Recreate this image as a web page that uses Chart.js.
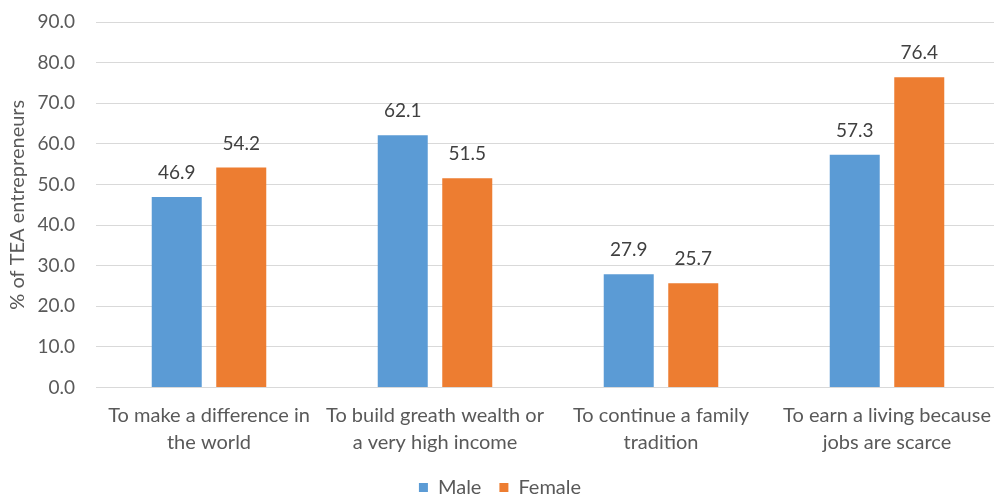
<!DOCTYPE html>
<html>
<head>
<meta charset="utf-8">
<script src="https://cdn.jsdelivr.net/npm/chart.js@4/dist/chart.umd.min.js"></script>
<style>
  html, body { margin: 0; padding: 0; background: #ffffff; overflow: hidden; }
  #wrap { position: absolute; left: 0; top: 0; width: 1004px; height: 497px; }
</style>
</head>
<body>
<div id="wrap"><canvas id="c" width="1004" height="497"></canvas></div>
<script>
// Motivations for starting a business, by gender
const categories = [
  ['To make a difference in', 'the world'],
  ['To build greath wealth or', 'a very high income'],
  ['To continue a family', 'tradition'],
  ['To earn a living because', 'jobs are scarce']
];
const seriesNames = ['Male', 'Female'];
const maleValues = [46.9, 62.1, 27.9, 57.3];
const femaleValues = [54.2, 51.5, 25.7, 76.4];
const yTicks = [0, 10, 20, 30, 40, 50, 60, 70, 80, 90];
const yTitle = '% of TEA entrepreneurs';

const FONT = 'Lato, "Liberation Sans", sans-serif';
const TEXT = '#595959';

// Writes each bar's value above it
const valueLabels = {
  id: 'valueLabels',
  afterDatasetsDraw(chart) {
    const ctx = chart.ctx;
    ctx.save();
    ctx.font = '19px ' + FONT;
    ctx.fillStyle = '#404040';
    ctx.textAlign = 'center';
    ctx.textBaseline = 'middle';
    chart.data.datasets.forEach((ds, i) => {
      const meta = chart.getDatasetMeta(i);
      meta.data.forEach((bar, j) => {
        ctx.fillText(ds.data[j].toFixed(1), bar.x, bar.y - 24);
      });
    });
    ctx.restore();
  }
};

new Chart(document.getElementById('c'), {
  type: 'bar',
  data: {
    labels: categories,
    datasets: [
      { label: seriesNames[0], data: maleValues, backgroundColor: '#5B9BD5',
        categoryPercentage: 0.571, barPercentage: 0.775 },
      { label: seriesNames[1], data: femaleValues, backgroundColor: '#ED7D31',
        categoryPercentage: 0.571, barPercentage: 0.775 }
    ]
  },
  options: {
    responsive: false,
    animation: false,
    layout: { padding: { top: 0, right: 4, left: 0, bottom: -10.5 } },
    plugins: {
      legend: {
        position: 'bottom',
        labels: {
          boxWidth: 9, boxHeight: 9, padding: 18,
          color: TEXT, font: { family: FONT, size: 20 }
        }
      },
      tooltip: { enabled: false }
    },
    scales: {
      x: {
        afterFit(scale) {
          scale.height = 72;
          scale.paddingLeft = 0;
          scale.paddingRight = 0;
        },
        grid: { display: false, drawTicks: false },
        border: { display: false },
        ticks: {
          color: TEXT, padding: 14.5, maxRotation: 0, autoSkip: false,
          font: { family: FONT, size: 20, lineHeight: 1.35 }
        }
      },
      y: {
        min: 0, max: 90,
        afterBuildTicks(scale) { scale.ticks = yTicks.map(v => ({ value: v })); },
        afterFit(scale) {
          scale.width = 96;
          scale.paddingTop = 22;
          scale.paddingBottom = 0;
        },
        grid: { color: '#d9d9d9', drawTicks: false, lineWidth: 1 },
        border: { display: false },
        ticks: {
          color: TEXT, padding: 21,
          font: { family: FONT, size: 19 },
          callback: v => Number(v).toFixed(1)
        },
        title: {
          display: true, text: yTitle, color: TEXT,
          font: { family: FONT, size: 20 },
          padding: { top: 6, bottom: 0 }
        }
      }
    }
  },
  plugins: [valueLabels]
});
</script>
</body>
</html>
